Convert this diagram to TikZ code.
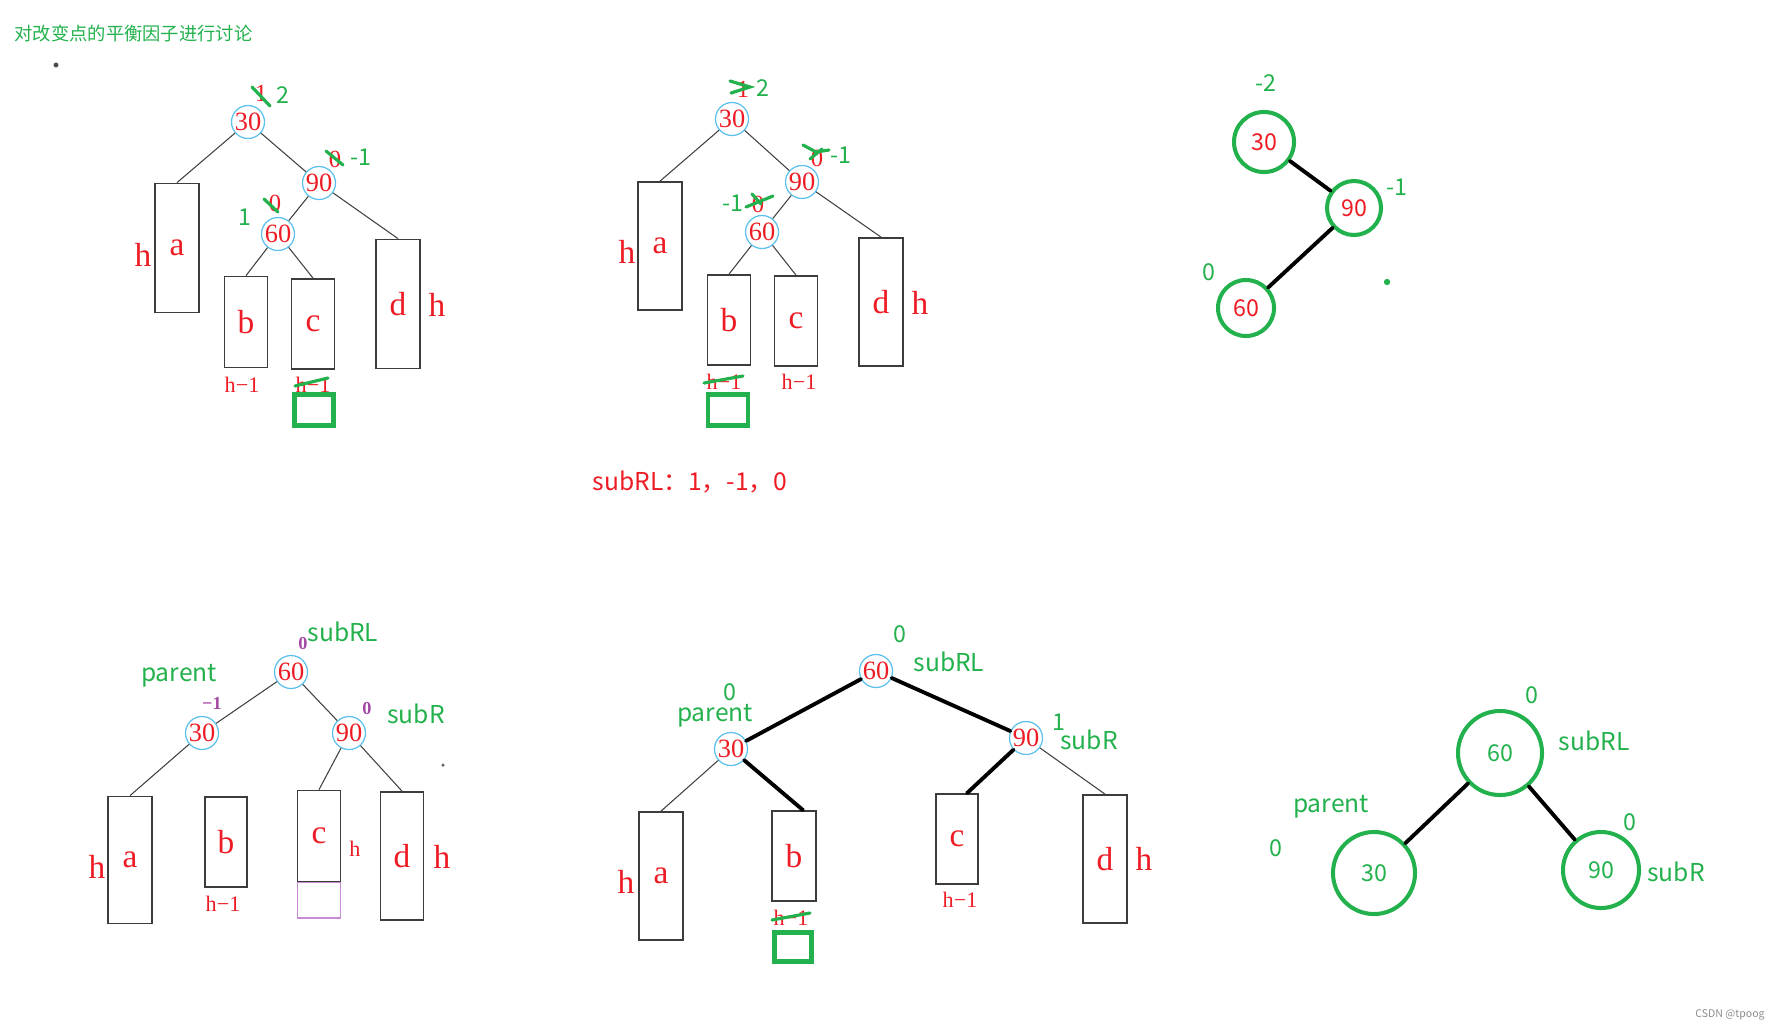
\documentclass[tikz,border=0pt]{standalone}
\usepackage{fontspec}
\setmainfont{Liberation Serif}
\newfontfamily\cjk{Noto Sans CJK SC}
\usepackage{xcolor}
\usetikzlibrary{calc}
\definecolor{paint_red}{HTML}{ED1C24}
\definecolor{paint_green}{HTML}{22B14C}
\definecolor{paint_purple}{HTML}{A349A4}
\definecolor{key_blue}{HTML}{5BC0EB}
\definecolor{box_purple}{HTML}{C98BD6}
\definecolor{box_gray}{HTML}{3C3C3C}

\tikzset{
  key/.style={circle, draw=key_blue, line width=0.35pt, text=paint_red, inner sep=0pt, minimum size=0.33cm, font=\fontsize{7.5}{8}\selectfont},
  ring/.style={circle, draw=paint_green, line width=1.15pt, inner sep=0pt, font=\cjk\fontsize{6.6}{7}\selectfont},
  subtree/.style 2 args={draw=box_gray, line width=0.5pt, inner sep=0pt, minimum width=#1*0.01cm, minimum height=#2*0.01cm, text=paint_red, font=\fontsize{9.5}{10}\selectfont},
  newleaf/.style 2 args={draw=paint_green, line width=1.2pt, inner sep=0pt, minimum width=#1*0.01cm, minimum height=#2*0.01cm},
  hlabel/.style={text=paint_red, inner sep=0pt, font=\fontsize{9.5}{10}\selectfont},
  hless/.style={text=paint_red, inner sep=0pt, font=\fontsize{6.3}{7}\selectfont},
  oldbf/.style={text=paint_red, inner sep=0pt, font=\fontsize{7}{8}\selectfont},
  newbf/.style={text=paint_green, inner sep=0pt, font=\cjk\fontsize{6.6}{7}\selectfont},
  purplebf/.style={text=paint_purple, inner sep=0pt, font=\bfseries\fontsize{5.2}{6}\selectfont},
  tag/.style={text=paint_green, inner sep=0pt, font=\cjk\fontsize{7}{8}\selectfont},
  strike/.style={draw=paint_green, line width=0.9pt, line cap=round},
  link/.style={draw=black!75, line width=0.3pt},
  bold link/.style={draw=black, line width=1.1pt, line cap=round}
}

\begin{document}
\begin{tikzpicture}[x=0.01cm, y=-0.01cm]
  \useasboundingbox (0,0) rectangle (1789,1030);

  \node[tag, anchor=west, font=\cjk\fontsize{5.2}{6}\selectfont] (title) at (14,33) {对改变点的平衡因子进行讨论};
  \fill[black!70] (56,65) circle (0.7pt);

  % first tree
  \node[key] (k30a) at (248,122) {30};
  \node[key] (k90a) at (319,183) {90};
  \node[key] (k60a) at (278,234) {60};
  \node[subtree={44}{129}] (a1) at (177,248) {a};
  \node[subtree={43}{91}] (b1) at (246,322) {b};
  \node[subtree={43}{90}] (c1) at (313,324) {c};
  \node[subtree={44}{129}] (d1) at (398,304) {d};
  \node[hlabel] (ha1) at (143,255) {h};
  \node[hlabel] (hd1) at (437,305) {h};
  \node[hless] (hb1) at (242,385) {h−1};
  \node[hless] (hc1) at (313,385) {h−1};
  \node[newleaf={39}{31}] (g1) at (314,410) {};
  \draw[link] (k30a) -- (a1.north);
  \draw[link] (k30a) -- (k90a);
  \draw[link] (k90a) -- (k60a);
  \draw[link] (k90a) -- (d1.north);
  \draw[link] (k60a) -- (b1.north);
  \draw[link] (k60a) -- (c1.north);
  \node[oldbf] (o30a) at (261,93) {1};
  \node[newbf] (f30a) at (283,95) {2};
  \node[oldbf] (o90a) at (335,159) {0};
  \node[newbf] (f90a) at (361,157) {-1};
  \node[oldbf] (o60a) at (275,203) {0};
  \node[newbf] (f60a) at (245,217) {1};
  \draw[strike] (252,87) -- (270,106);
  \draw[strike] (326,151) -- (343,165);
  \draw[strike] (264,199) -- (278,212);
  \draw[strike] (295,386) -- (328,378);

  % second tree
  \node[key] (k30b) at (732,119) {30};
  \node[key] (k90b) at (802,182) {90};
  \node[key] (k60b) at (762,232) {60};
  \node[subtree={44}{128}] (a2) at (660,246) {a};
  \node[subtree={43}{90}] (b2) at (729,320) {b};
  \node[subtree={43}{90}] (c2) at (796,321) {c};
  \node[subtree={44}{128}] (d2) at (881,302) {d};
  \node[hlabel] (ha2) at (627,252) {h};
  \node[hlabel] (hd2) at (920,303) {h};
  \node[hless] (hb2) at (724,382) {h−1};
  \node[hless] (hc2) at (799,382) {h−1};
  \node[newleaf={40}{31}] (g2) at (728,410) {};
  \draw[link] (k30b) -- (a2.north);
  \draw[link] (k30b) -- (k90b);
  \draw[link] (k90b) -- (k60b);
  \draw[link] (k90b) -- (d2.north);
  \draw[link] (k60b) -- (b2.north);
  \draw[link] (k60b) -- (c2.north);
  \node[oldbf] (o30b) at (743,89) {1};
  \node[newbf] (f30b) at (763,88) {2};
  \node[oldbf] (o90b) at (817,158) {0};
  \node[newbf] (f90b) at (841,155) {-1};
  \node[oldbf] (o60b) at (758,204) {0};
  \node[newbf] (f60b) at (733,203) {-1};
  \draw[strike] (730,81) -- (750,87) -- (731,93);
  \draw[strike] (803,145) -- (816,152) -- (829,150);
  \draw[strike] (810,159) -- (822,149);
  \draw[strike] (746,207) -- (773,196);
  \draw[strike] (752,194) -- (761,204);
  \draw[strike] (704,383) -- (743,376);

  \node[text=paint_red, font=\cjk\fontsize{7}{8}\selectfont] (rule) at (690,482) {subRL：1，-1，0};

  % third tree
  \node[ring, minimum size=0.6cm, text=paint_red] (g30c) at (1264,142) {30};
  \node[ring, minimum size=0.54cm, text=paint_red] (g90c) at (1354,208) {90};
  \node[ring, minimum size=0.56cm, text=paint_red] (g60c) at (1246,308) {60};
  \draw[bold link] (g30c) -- (g90c);
  \draw[bold link] (g90c) -- (g60c);
  \node[newbf] (f30c) at (1266,83) {-2};
  \node[newbf] (f90c) at (1397,187) {-1};
  \node[newbf] (f60c) at (1209,272) {0};
  \fill[paint_green] (1387,282) circle (0.9pt);

  % fourth tree
  \node[key] (k60d) at (291,672) {60};
  \node[key] (k30d) at (202,733) {30};
  \node[key] (k90d) at (349,733) {90};
  \node[subtree={44}{127}] (a4) at (130,860) {a};
  \node[subtree={42}{90}] (b4) at (226,842) {b};
  \node[draw=box_purple, line width=0.5pt, minimum width=0.43cm, minimum height=0.36cm, inner sep=0pt] (p4) at (319,900) {};
  \node[subtree={43}{91}] (c4) at (319,836) {c};
  \node[subtree={43}{128}] (d4) at (402,856) {d};
  \node[hlabel] (ha4) at (97,867) {h};
  \node[hless] (hc4) at (355,849) {h};
  \node[hlabel] (hd4) at (442,857) {h};
  \node[hless] (hb4) at (223,904) {h−1};
  \draw[link] (k60d) -- (k30d);
  \draw[link] (k60d) -- (k90d);
  \draw[link] (k30d) -- (a4.north);
  \draw[link] (k90d) -- (c4.north);
  \draw[link] (k90d) -- (d4.north);
  \node[purplebf] (q60d) at (303,643) {0};
  \node[tag] (s60d) at (343,632) {subRL};
  \node[tag] (s30d) at (179,676) {parent};
  \node[purplebf] (q30d) at (212,703) {−1};
  \node[purplebf] (q90d) at (367,708) {0};
  \node[tag] (s90d) at (416,714) {subR};
  \fill[black!60] (443,765) circle (0.5pt);

  % fifth tree
  \node[key] (k60e) at (876,671) {60};
  \node[key] (k30e) at (731,749) {30};
  \node[key] (k90e) at (1026,738) {90};
  \node[subtree={44}{128}] (a5) at (661,876) {a};
  \node[subtree={44}{90}] (b5) at (794,856) {b};
  \node[subtree={42}{90}] (c5) at (957,839) {c};
  \node[subtree={44}{128}] (d5) at (1105,859) {d};
  \node[hlabel] (ha5) at (626,882) {h};
  \node[hlabel] (hd5) at (1144,859) {h};
  \node[hless] (hb5) at (791,918) {h−1};
  \node[hless] (hc5) at (960,900) {h−1};
  \node[newleaf={37}{29}] (g5) at (793,947) {};
  \draw[bold link] (k60e) -- (k30e);
  \draw[bold link] (k60e) -- (k90e);
  \draw[bold link] (k30e) -- ($(b5.north)+(9,0)$);
  \draw[bold link] (k90e) -- ($(c5.north)+(10,0)$);
  \draw[link] (k30e) -- (a5.north);
  \draw[link] (k90e) -- (d5.north);
  \draw[strike] (772,920) -- (810,913);
  \node[newbf] (f60e) at (900,634) {0};
  \node[tag] (s60e) at (949,662) {subRL};
  \node[newbf] (f30e) at (730,692) {0};
  \node[tag] (s30e) at (715,716) {parent};
  \node[newbf] (f90e) at (1059,722) {1};
  \node[tag] (s90e) at (1089,740) {subR};

  % sixth tree
  \node[ring, minimum size=0.84cm, text=paint_green] (g60f) at (1500,753) {60};
  \node[ring, minimum size=0.82cm, text=paint_green] (g30f) at (1374,873) {30};
  \node[ring, minimum size=0.76cm, text=paint_green] (g90f) at (1601,870) {90};
  \draw[bold link] (g60f) -- (g30f);
  \draw[bold link] (g60f) -- (g90f);
  \node[newbf] (f60f) at (1532,695) {0};
  \node[tag] (s60f) at (1594,741) {subRL};
  \node[tag] (s30f) at (1331,807) {parent};
  \node[newbf] (f30f) at (1276,848) {0};
  \node[newbf] (f90f) at (1630,822) {0};
  \node[tag] (s90f) at (1676,872) {subR};

  \node[anchor=east, text=black!45, font=\cjk\fontsize{3}{3}\selectfont] (mark) at (1777,1015) {CSDN @tpoog};
\end{tikzpicture}
\end{document}
